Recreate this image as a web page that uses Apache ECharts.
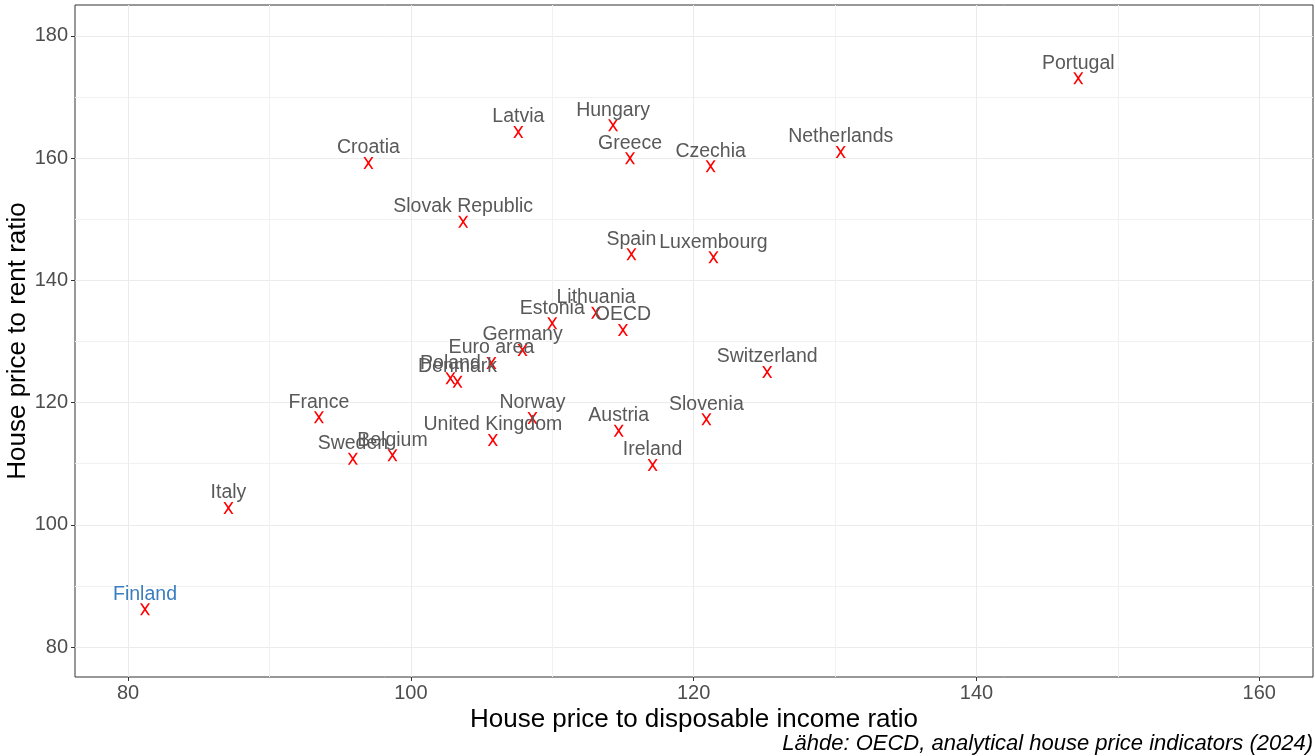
<!DOCTYPE html>
<html>
<head>
<meta charset="utf-8">
<script src="https://cdn.jsdelivr.net/npm/echarts@6/dist/echarts.min.js"></script>
<style>
  html, body { margin: 0; padding: 0; background: #fff; }
  #chart { width: 1315px; height: 756px; }
</style>
</head>
<body>
<div id="chart"></div>
<script>
// House price indicators by country
const countries = [
  'Portugal', 'Hungary', 'Latvia', 'Greece', 'Netherlands', 'Croatia', 'Czechia',
  'Slovak Republic', 'Spain', 'Luxembourg', 'Lithuania', 'Estonia', 'OECD', 'Germany',
  'Euro area', 'Poland', 'Denmark', 'Switzerland', 'France', 'Norway', 'Slovenia',
  'Austria', 'United Kingdom', 'Belgium', 'Sweden', 'Ireland', 'Italy', 'Finland'
];
const incomeRatio = [
  147.2, 114.3, 107.6, 115.5, 130.4, 97.0, 121.2,
  103.7, 115.6, 121.4, 113.1, 110.0, 115.0, 107.9,
  105.7, 102.8, 103.3, 125.2, 93.5, 108.6, 120.9,
  114.7, 105.8, 98.7, 95.9, 117.1, 87.1, 81.2
];
const rentRatio = [
  173.1, 165.4, 164.3, 160.0, 161.0, 159.2, 158.7,
  149.6, 144.3, 143.8, 134.7, 133.0, 131.9, 128.6,
  126.5, 124.0, 123.4, 125.0, 117.6, 117.5, 117.3,
  115.4, 113.9, 111.4, 110.8, 109.8, 102.75, 86.2
];
const highlighted = 'Finland';

const xTicks = [80, 100, 120, 140, 160];
const xMinorTicks = [90, 110, 130, 150];
const yTicks = [80, 100, 120, 140, 160, 180];
const yMinorTicks = [90, 110, 130, 150, 170];

const xRange = [76.25, 163.8];
const yRange = [75.1, 185.07];

const FONT = '"Liberation Sans", Arial, sans-serif';
const GRID_COLOR = '#ebebeb';

// Filled "x" glyph used as the point marker
const crossPath = 'path://M0,0 L19,0 L50,45 L81,0 L100,0 L60,60 L100,120 L81,120 L50,75 L19,120 L0,120 L40,60 Z';

const points = countries.map((name, i) => ({
  name: name,
  value: [incomeRatio[i], rentRatio[i]],
  label: { color: name === highlighted ? '#3a7ebf' : '#595959' }
}));

const chart = echarts.init(document.getElementById('chart'), null, { renderer: 'canvas' });

chart.setOption({
  animation: false,
  backgroundColor: '#ffffff',
  grid: {
    left: 75, right: 2, top: 5, bottom: 79,
    outerBoundsMode: 'none', containLabel: false,
    show: true, borderColor: '#333333', borderWidth: 1, backgroundColor: 'transparent'
  },
  xAxis: [
    {
      type: 'value', min: xRange[0], max: xRange[1], position: 'bottom',
      name: 'House price to disposable income ratio',
      nameLocation: 'middle', nameGap: 30, nameMoveOverlap: false,
      nameTextStyle: { fontFamily: FONT, fontSize: 26, color: '#000000' },
      axisLine: { show: false },
      axisTick: { show: true, length: 4, customValues: xTicks, lineStyle: { color: '#333333' } },
      axisLabel: { customValues: xTicks, fontFamily: FONT, fontSize: 20, color: '#4d4d4d', margin: 6 },
      splitLine: { show: true, lineStyle: { color: GRID_COLOR, width: 1 } }
    },
    {
      type: 'value', min: xRange[0], max: xRange[1], position: 'bottom',
      axisLine: { show: false },
      axisTick: { show: false, customValues: xMinorTicks },
      axisLabel: { show: false },
      splitLine: { show: true, lineStyle: { color: '#f1f1f1', width: 1 } }
    }
  ],
  yAxis: [
    {
      type: 'value', min: yRange[0], max: yRange[1], position: 'left',
      name: 'House price to rent ratio',
      nameLocation: 'middle', nameGap: 44, nameRotate: 90, nameMoveOverlap: false,
      nameTextStyle: { fontFamily: FONT, fontSize: 26, color: '#000000' },
      axisLine: { show: false },
      axisTick: { show: true, length: 4, customValues: yTicks, lineStyle: { color: '#333333' } },
      axisLabel: { customValues: yTicks, fontFamily: FONT, fontSize: 20, color: '#4d4d4d', margin: 7 },
      splitLine: { show: true, lineStyle: { color: GRID_COLOR, width: 1 } }
    },
    {
      type: 'value', min: yRange[0], max: yRange[1], position: 'left',
      axisLine: { show: false },
      axisTick: { show: false, customValues: yMinorTicks },
      axisLabel: { show: false },
      splitLine: { show: true, lineStyle: { color: '#f1f1f1', width: 1 } }
    }
  ],
  series: [{
    type: 'scatter',
    xAxisIndex: 0, yAxisIndex: 0,
    data: points,
    symbol: crossPath,
    symbolSize: [10, 12],
    itemStyle: { color: '#ff0000', opacity: 1 },
    label: {
      show: true,
      position: 'top',
      distance: -1,
      formatter: p => p.name,
      fontFamily: FONT,
      fontSize: 19.5
    },
    labelLayout: { hideOverlap: false },
    z: 5
  }],
  graphic: [{
    type: 'text',
    right: 2, top: 733,
    style: {
      text: 'Lähde: OECD, analytical house price indicators (2024)',
      fontFamily: FONT, fontSize: 22, fontStyle: 'italic', fill: '#000000'
    }
  }]
});
</script>
</body>
</html>
